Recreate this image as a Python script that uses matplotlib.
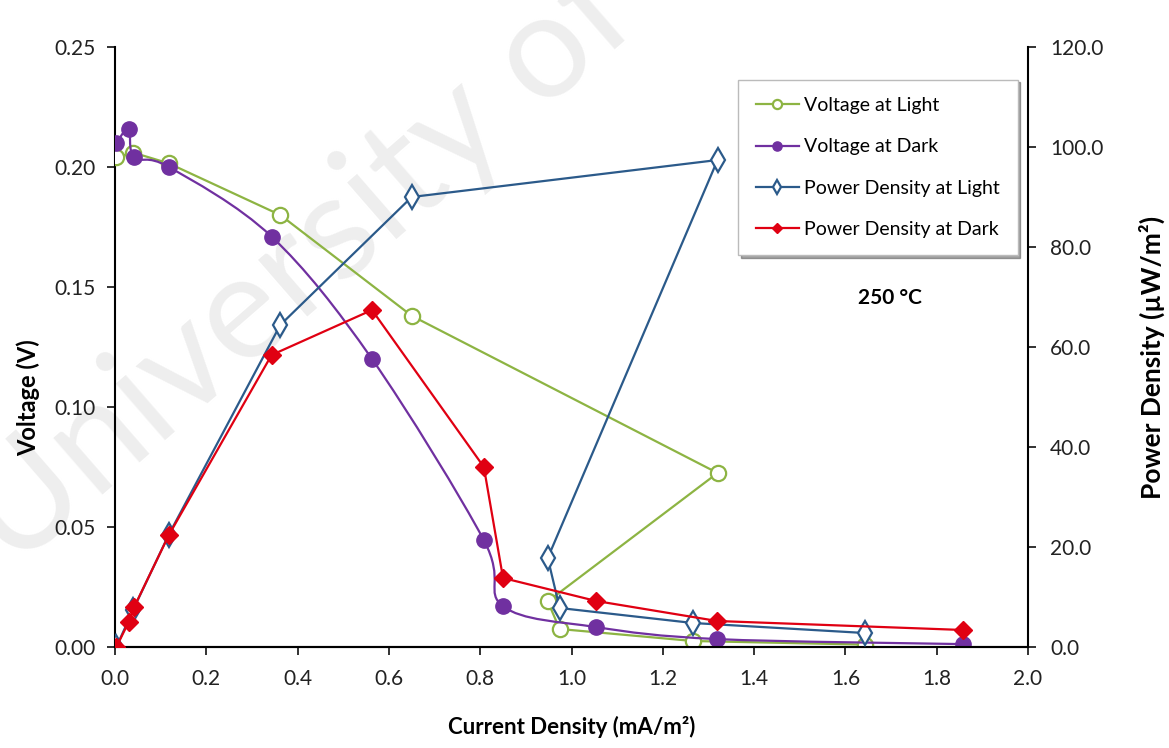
import matplotlib
matplotlib.use("Agg")
import matplotlib.pyplot as plt
from matplotlib.path import Path
from matplotlib.patches import PathPatch
from matplotlib.lines import Line2D

# Voltage at light (left axis)
light_i = [0.003, 0.04, 0.118, 0.362, 0.65, 1.32, 0.948, 0.974, 1.266, 1.642]
light_v = [0.204, 0.206, 0.2015, 0.180, 0.138, 0.0725, 0.019, 0.0075, 0.0025, 0.001]
# Power density at light (right axis)
light_p = [0.0, 7.5, 22.5, 64.4, 90.0, 97.4, 17.8, 7.8, 4.8, 2.8]

# dark series
dark_i = [0.003, 0.03, 0.042, 0.118, 0.343, 0.563, 0.808, 0.850, 1.054, 1.319, 1.858]
dark_v = [0.210, 0.216, 0.204, 0.200, 0.171, 0.120, 0.0445, 0.0170, 0.0083, 0.0033, 0.0012]
dark_p = [0.0, 5.0, 8.0, 22.4, 58.4, 67.4, 36.0, 13.8, 9.2, 5.2, 3.4]

labels = ["Voltage at Light", "Voltage at Dark", "Power Density at Light", "Power Density at Dark"]

green = "#8DB443"
purple = "#7030A0"
blue = "#2B5A8A"
red = "#E00012"


def smooth_path(xs, ys, t=6.0):
    # smoothed line like excel: cubic bezier through each point
    pts = list(zip(xs, ys))
    n = len(pts)
    verts = [pts[0]]
    codes = [Path.MOVETO]
    for k in range(n - 1):
        p0 = pts[max(k - 1, 0)]
        p1 = pts[k]
        p2 = pts[k + 1]
        p3 = pts[min(k + 2, n - 1)]
        c1 = (p1[0] + (p2[0] - p0[0]) / t, p1[1] + (p2[1] - p0[1]) / t)
        c2 = (p2[0] - (p3[0] - p1[0]) / t, p2[1] - (p3[1] - p1[1]) / t)
        verts += [c1, c2, p2]
        codes += [Path.CURVE4] * 3
    return Path(verts, codes)


plt.rcParams['font.family'] = ['Lato', 'DejaVu Sans']

fig = plt.figure(figsize=(11.69, 7.48), dpi=100)
fig.text(0.012, 0.235, "University of", fontsize=106, color="#eeeeee",
         rotation=41, rotation_mode="anchor", ha="left", va="baseline", zorder=-5)

ax = fig.add_axes([115/1169, 1 - 647/748, 913/1169, 600/748])
ax2 = ax.twinx()
ax.patch.set_alpha(0)
ax2.patch.set_alpha(0)

ax.plot(light_i, light_v, color=green, lw=1.6, marker='o', ms=11,
        mfc='white', mec=green, mew=1.6, zorder=3)
ax.add_patch(PathPatch(smooth_path(dark_i, dark_v), fill=False, ec=purple, lw=1.6, zorder=4))
ax.plot(dark_i, dark_v, ls='none', marker='o', ms=11, mfc=purple, mec=purple, zorder=4)
ax2.plot(light_i, light_p, color=blue, lw=1.6, marker='d', ms=12,
         mfc='white', mec=blue, mew=1.6, zorder=3)
ax2.plot(dark_i, dark_p, color=red, lw=1.6, marker='D', ms=9,
         mfc=red, mec=red, zorder=4)

handles = [
    Line2D([], [], color=green, lw=1.6, marker='o', ms=11, mfc='white', mec=green, mew=1.6),
    Line2D([], [], color=purple, lw=1.6, marker='o', ms=11, mfc=purple, mec=purple),
    Line2D([], [], color=blue, lw=1.6, marker='d', ms=12, mfc='white', mec=blue, mew=1.6),
    Line2D([], [], color=red, lw=1.6, marker='D', ms=9, mfc=red, mec=red),
]

ax.set_xlim(0, 2.0)
ax.set_ylim(0, 0.25)
ax2.set_ylim(0, 120)
ax.set_xticks([0.0, 0.2, 0.4, 0.6, 0.8, 1.0, 1.2, 1.4, 1.6, 1.8, 2.0])
ax.set_yticks([0.0, 0.05, 0.10, 0.15, 0.20, 0.25])
ax2.set_yticks([0, 20, 40, 60, 80, 100, 120])
ax.set_xticklabels([f"{t:.1f}" for t in ax.get_xticks()])
ax.set_yticklabels([f"{t:.2f}" for t in ax.get_yticks()])
ax2.set_yticklabels([f"{t:.1f}" for t in ax2.get_yticks()])

for a in (ax, ax2):
    a.spines['top'].set_visible(False)
    for s in a.spines.values():
        s.set_linewidth(1.5)
ax.spines['right'].set_visible(False)
ax2.spines['left'].set_visible(False)
ax.tick_params(axis='both', direction='out', length=6, width=1.3, labelsize=15, colors='#222222')
ax2.tick_params(axis='y', direction='out', length=6, width=1.3, labelsize=15, colors='#222222')
ax.tick_params(axis='x', pad=10)
ax.tick_params(axis='y', pad=8)
ax2.tick_params(axis='y', pad=10)

ax.set_xlabel("Current Density (mA/m²)", fontsize=16, fontweight='bold')
ax.set_ylabel("Voltage (V)", fontsize=17, fontweight='bold')
ax2.set_ylabel("Power Density (µW/m²)", fontsize=19, fontweight='bold')
ax.xaxis.set_label_coords(0.5, -0.115)
ax.yaxis.set_label_coords(-0.082, 0.415)
ax2.yaxis.set_label_coords(1.121, 0.483)

ax.text(0.849, 0.582, "250 °C", transform=ax.transAxes, fontsize=15,
        fontweight='bold', ha='center', va='center')

leg = ax2.legend(handles, labels, loc='upper left',
                 bbox_to_anchor=(0.672, 0.962), fontsize=14, markerscale=0.6,
                 handlelength=2.2, handletextpad=0.3, labelspacing=1.25,
                 frameon=True, fancybox=False, shadow=True, borderpad=0.9)
leg.get_frame().set_edgecolor('#bbbbbb')
leg.get_frame().set_linewidth(1.0)

fig.savefig("out.png", dpi=100)
